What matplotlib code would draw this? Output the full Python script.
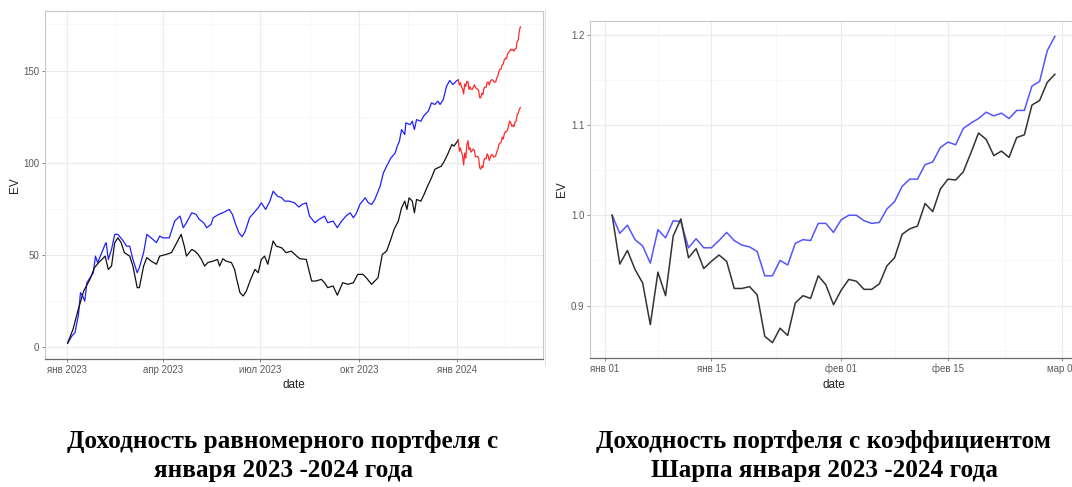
import matplotlib
matplotlib.use("Agg")
import matplotlib.pyplot as plt
import matplotlib.dates as mdates
import pandas as pd
from matplotlib.lines import Line2D
from matplotlib.ticker import FixedLocator, FixedFormatter

# Equal-weight portfolio value through 2023 (blue and black strategies)
blue_dates = [
    "2023-01-02", "2023-01-06", "2023-01-09", "2023-01-10", "2023-01-12", "2023-01-14",
    "2023-01-16", "2023-01-18", "2023-01-20", "2023-01-23", "2023-01-26", "2023-01-28",
    "2023-01-30", "2023-02-03", "2023-02-06", "2023-02-07", "2023-02-09", "2023-02-12",
    "2023-02-15", "2023-02-18", "2023-02-23", "2023-02-26", "2023-03-01", "2023-03-04",
    "2023-03-08", "2023-03-10", "2023-03-14", "2023-03-17", "2023-03-21", "2023-03-26",
    "2023-03-29", "2023-04-01", "2023-04-07", "2023-04-12", "2023-04-17", "2023-04-20",
    "2023-04-23", "2023-04-28", "2023-05-02", "2023-05-05", "2023-05-09", "2023-05-12",
    "2023-05-16", "2023-05-18", "2023-05-23", "2023-05-27", "2023-05-30", "2023-06-02",
    "2023-06-05", "2023-06-08", "2023-06-11", "2023-06-14", "2023-06-17", "2023-06-21",
    "2023-06-25", "2023-06-29", "2023-07-02", "2023-07-06", "2023-07-10", "2023-07-13",
    "2023-07-17", "2023-07-21", "2023-07-24", "2023-07-28", "2023-08-02", "2023-08-06",
    "2023-08-09", "2023-08-13", "2023-08-16", "2023-08-21", "2023-08-25", "2023-08-30",
    "2023-09-02", "2023-09-07", "2023-09-11", "2023-09-15", "2023-09-19", "2023-09-23",
    "2023-09-26", "2023-09-29", "2023-10-02", "2023-10-07", "2023-10-10", "2023-10-13",
    "2023-10-16", "2023-10-21", "2023-10-24", "2023-10-27", "2023-10-31", "2023-11-04",
    "2023-11-06", "2023-11-08", "2023-11-10", "2023-11-13", "2023-11-14", "2023-11-18",
    "2023-11-20", "2023-11-22", "2023-11-24", "2023-11-28", "2023-12-01", "2023-12-05",
    "2023-12-08", "2023-12-11", "2023-12-14", "2023-12-16", "2023-12-19", "2023-12-22",
    "2023-12-25", "2023-12-28", "2023-12-31",
]
blue_values = [
    2.2, 6.1, 8.0, 11.5, 17.0, 29.6, 27.8, 25.0, 35.0, 37.7, 40.4, 49.4,
    45.9, 51.3, 55.8, 56.7, 47.6, 53.0, 61.2, 61.2, 57.6, 54.8, 54.8, 47.6,
    40.4, 43.1, 51.3, 61.2, 59.3, 56.7, 60.3, 59.3, 59.3, 68.4, 71.1, 64.8,
    67.5, 72.9, 72.0, 69.3, 67.5, 64.8, 66.6, 70.2, 72.0, 72.9, 73.8, 74.7,
    72.0, 66.6, 62.1, 59.9, 63.0, 70.2, 72.9, 75.6, 78.3, 74.7, 79.2, 84.6,
    81.9, 81.0, 79.2, 79.2, 78.3, 76.0, 77.4, 78.3, 71.1, 67.5, 69.3, 71.1,
    67.5, 68.4, 64.8, 68.4, 71.1, 72.9, 70.2, 72.9, 77.4, 81.0, 78.3, 77.4,
    80.1, 87.3, 94.5, 98.1, 102.6, 105.3, 109.0, 111.7, 118.0, 115.3, 121.6, 120.7,
    122.5, 118.0, 123.4, 122.5, 125.6, 128.0, 132.5, 131.6, 133.4, 131.6, 134.3, 141.5,
    144.6, 142.4, 144.2,
]

black_dates = [
    "2023-01-02", "2023-01-07", "2023-01-12", "2023-01-17", "2023-01-23", "2023-01-27",
    "2023-01-31", "2023-02-03", "2023-02-06", "2023-02-09", "2023-02-12", "2023-02-15",
    "2023-02-18", "2023-02-21", "2023-02-24", "2023-03-01", "2023-03-04", "2023-03-08",
    "2023-03-10", "2023-03-14", "2023-03-17", "2023-03-21", "2023-03-26", "2023-03-29",
    "2023-04-04", "2023-04-09", "2023-04-14", "2023-04-18", "2023-04-21", "2023-04-23",
    "2023-04-28", "2023-05-01", "2023-05-04", "2023-05-07", "2023-05-10", "2023-05-13",
    "2023-05-18", "2023-05-22", "2023-05-24", "2023-05-27", "2023-05-30", "2023-06-04",
    "2023-06-07", "2023-06-09", "2023-06-12", "2023-06-15", "2023-06-18", "2023-06-22",
    "2023-06-26", "2023-06-29", "2023-07-02", "2023-07-05", "2023-07-08", "2023-07-13",
    "2023-07-16", "2023-07-21", "2023-07-25", "2023-07-30", "2023-08-04", "2023-08-07",
    "2023-08-13", "2023-08-16", "2023-08-18", "2023-08-22", "2023-08-27", "2023-08-30",
    "2023-09-02", "2023-09-07", "2023-09-11", "2023-09-16", "2023-09-21", "2023-09-26",
    "2023-09-30", "2023-10-05", "2023-10-08", "2023-10-13", "2023-10-19", "2023-10-23",
    "2023-10-27", "2023-10-31", "2023-11-03", "2023-11-07", "2023-11-10", "2023-11-13",
    "2023-11-15", "2023-11-17", "2023-11-20", "2023-11-22", "2023-11-24", "2023-11-28",
    "2023-12-01", "2023-12-04", "2023-12-08", "2023-12-11", "2023-12-14", "2023-12-17",
    "2023-12-20", "2023-12-23", "2023-12-27", "2023-12-29",
]
black_values = [
    2.2, 9.7, 20.6, 30.5, 37.0, 43.1, 45.9, 47.6, 49.4, 42.2, 44.0, 56.7,
    59.3, 56.7, 51.3, 49.4, 44.0, 32.3, 32.3, 44.0, 48.6, 46.7, 45.0, 49.4,
    50.3, 51.3, 56.7, 61.2, 54.8, 49.4, 53.0, 52.1, 50.3, 47.6, 44.0, 45.9,
    46.7, 47.6, 44.0, 48.0, 46.7, 45.9, 42.2, 36.8, 29.6, 27.8, 30.5, 36.8,
    42.2, 40.4, 47.6, 49.4, 45.0, 57.6, 54.8, 53.9, 51.3, 52.1, 49.4, 48.0,
    47.6, 40.4, 35.9, 35.9, 36.8, 35.0, 32.3, 33.2, 28.2, 35.0, 34.1, 35.0,
    39.5, 39.5, 37.7, 34.1, 37.7, 50.3, 52.1, 58.5, 63.9, 68.4, 75.6, 79.2,
    74.7, 81.0, 79.2, 72.9, 80.1, 79.2, 82.8, 87.0, 91.9, 96.4, 97.3, 98.1,
    100.9, 104.5, 109.9, 109.0,
]

# Value of each portfolio on 2024-01-02, the start of the test period
blue_start_2024 = 145.0
black_start_2024 = 112.4

# Jan-Feb 2024, each portfolio relative to its value on Jan 2
test_dates = pd.date_range("2024-01-02", "2024-02-29", freq="D")
blue_rel = [
    1.000, 0.980, 0.989, 0.973, 0.966, 0.947, 0.984, 0.975, 0.994, 0.993,
    0.964, 0.974, 0.964, 0.964, 0.972, 0.981, 0.972, 0.967, 0.965, 0.960,
    0.933, 0.933, 0.950, 0.945, 0.969, 0.973, 0.972, 0.991, 0.991, 0.981,
    0.995, 1.000, 1.000, 0.994, 0.991, 0.992, 1.007, 1.015, 1.032, 1.040,
    1.040, 1.056, 1.059, 1.075, 1.081, 1.078, 1.096, 1.102, 1.107, 1.114,
    1.110, 1.113, 1.107, 1.116, 1.116, 1.143, 1.148, 1.182, 1.198,
]
black_rel = [
    1.000, 0.946, 0.961, 0.940, 0.925, 0.879, 0.937, 0.911, 0.977, 0.996,
    0.953, 0.963, 0.941, 0.949, 0.956, 0.949, 0.919, 0.919, 0.921, 0.912,
    0.866, 0.859, 0.875, 0.867, 0.903, 0.911, 0.908, 0.933, 0.923, 0.901,
    0.917, 0.929, 0.927, 0.918, 0.918, 0.924, 0.944, 0.953, 0.979, 0.985,
    0.988, 1.013, 1.004, 1.029, 1.040, 1.039, 1.048, 1.069, 1.091, 1.084,
    1.066, 1.071, 1.064, 1.086, 1.089, 1.122, 1.127, 1.147, 1.156,
]

left_ticks = ["2023-01-01", "2023-04-01", "2023-07-01", "2023-10-01", "2024-01-01"]
left_tick_labels = ["янв 2023", "апр 2023", "июл 2023", "окт 2023", "янв 2024"]
left_minor = ["2023-02-15", "2023-05-16", "2023-08-16", "2023-11-16", "2024-02-15"]
right_ticks = ["2024-01-01", "2024-01-15", "2024-02-01", "2024-02-15", "2024-03-01"]
right_tick_labels = ["янв 01", "янв 15", "фев 01", "фев 15", "мар 01"]
right_minor = ["2024-01-08T00:00", "2024-01-23T12:00", "2024-02-08T00:00", "2024-02-22T12:00"]

captions = [
    "Доходность равномерного портфеля с\nянваря 2023 -2024 года",
    "Доходность портфеля с коэффициентом\nШарпа января 2023 -2024 года",
]

plt.rcParams["font.family"] = ["Liberation Sans", "DejaVu Sans"]

W, H = 1072, 487
fig = plt.figure(figsize=(W / 100, H / 100), dpi=100)
fig.patch.set_facecolor("white")


def px_axes(left, top, right, bottom):
    return fig.add_axes([left / W, 1 - bottom / H, (right - left) / W, (bottom - top) / H])


def to_num(dates):
    return mdates.date2num(pd.to_datetime(dates, format="ISO8601"))


def style_axes(ax, x_ticks, x_labels, x_minor, y_ticks, y_minor):
    ax.xaxis.set_major_locator(FixedLocator(to_num(x_ticks)))
    ax.xaxis.set_major_formatter(FixedFormatter(x_labels))
    ax.xaxis.set_minor_locator(FixedLocator(to_num(x_minor)))
    ax.yaxis.set_major_locator(FixedLocator(y_ticks))
    ax.yaxis.set_minor_locator(FixedLocator(y_minor))
    ax.grid(which="major", color="#ebebeb", lw=0.8)
    ax.grid(which="minor", color="#f4f4f4", lw=0.5)
    ax.set_axisbelow(True)
    for side in ("top", "right", "left"):
        ax.spines[side].set_color("#c8c8c8")
        ax.spines[side].set_linewidth(0.8)
    ax.spines["bottom"].set_color("#6a6a6a")
    ax.spines["bottom"].set_linewidth(0.9)
    ax.tick_params(which="major", length=2.5, width=0.6, color="#777777",
                   labelsize=7, labelcolor="#5a5a5a", pad=1.5)
    ax.tick_params(which="minor", length=0)
    ax.set_xlabel("date", fontsize=8.5, color="#222222", labelpad=3.5)
    ax.set_ylabel("EV", fontsize=8.5, color="#222222", labelpad=2)


# left panel: full history, 2024 part in red
ax1 = px_axes(45, 11, 543, 359)
b_dates = pd.to_datetime(blue_dates + [test_dates[0].strftime("%Y-%m-%d")])
k_dates = pd.to_datetime(black_dates + [test_dates[0].strftime("%Y-%m-%d")])
ax1.plot(b_dates, blue_values + [blue_start_2024], color="#2020ff", lw=0.9)
ax1.plot(k_dates, black_values + [black_start_2024], color="#111111", lw=0.9)
ax1.plot(test_dates, [v * blue_start_2024 for v in blue_rel], color="#ff2a2a", lw=0.9)
ax1.plot(test_dates, [v * black_start_2024 for v in black_rel], color="#ff2a2a", lw=0.9)
style_axes(ax1, left_ticks, left_tick_labels, left_minor, [0, 50, 100, 150], [25, 75, 125, 175])

# right panel: relative value over the test period
ax2 = px_axes(590, 21, 1077, 358)
ax2.plot(test_dates, blue_rel, color="#5555ff", lw=1.1)
ax2.plot(test_dates, black_rel, color="#333333", lw=1.1)
style_axes(ax2, right_ticks, right_tick_labels, right_minor,
           [0.9, 1.0, 1.1, 1.2], [0.85, 0.95, 1.05, 1.15])

fig.add_artist(Line2D([545 / W, 545 / W], [1 - 365 / H, 1 - 10 / H],
                      color="#e2e2e2", lw=0.8))

for x, text in zip([283, 824], captions):
    fig.text(x / W, 1 - 456 / H, text, ha="center", va="center",
             family="Liberation Serif", fontweight="bold", fontsize=18.2,
             linespacing=1.3, color="black")

fig.savefig("out.png", dpi=100)
